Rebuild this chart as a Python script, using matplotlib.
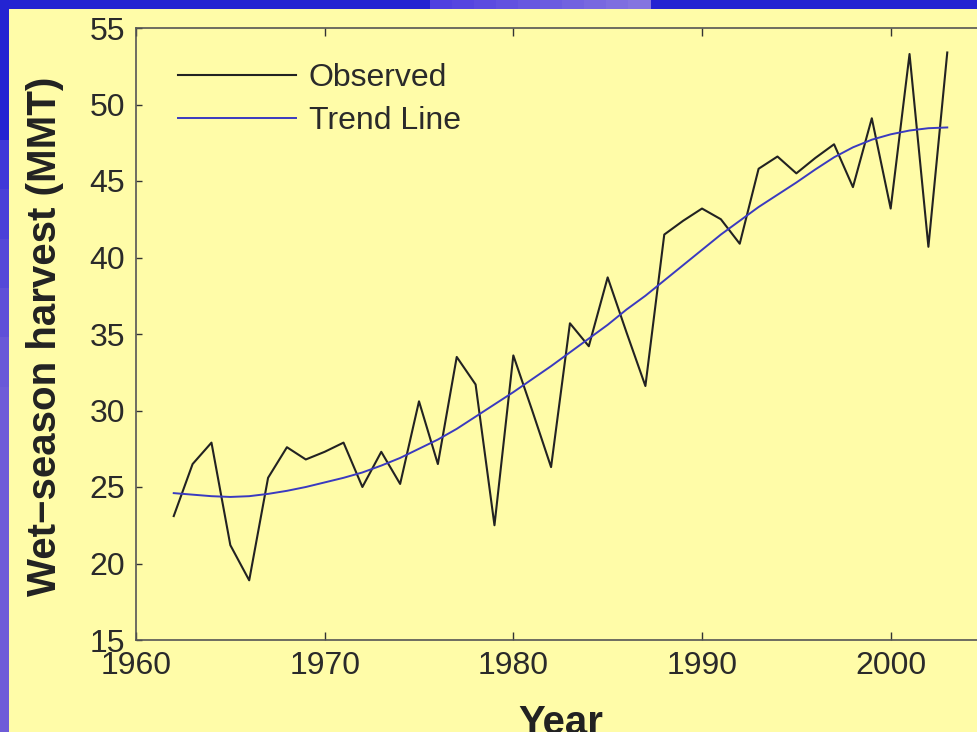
import matplotlib
matplotlib.use("Agg")
import matplotlib.pyplot as plt
from matplotlib.patches import Rectangle

plt.rcParams['font.family'] = ['Liberation Sans', 'DejaVu Sans']

years = list(range(1962, 2004))
observed = [23.1, 26.5, 27.9, 21.2, 18.9, 25.6, 27.6, 26.8, 27.3, 27.9,
            25.0, 27.3, 25.2, 30.6, 26.5, 33.5, 31.7, 22.5, 33.6, 30.0,
            26.3, 35.7, 34.2, 38.7, 35.1, 31.6, 41.5, 42.4, 43.2, 42.5,
            40.9, 45.8, 46.6, 45.5, 46.5, 47.4, 44.6, 49.1, 43.2, 53.3,
            40.7, 53.4]
trend = [24.6, 24.5, 24.4, 24.35, 24.4, 24.55, 24.75, 25.0, 25.3, 25.6,
         25.95, 26.4, 26.9, 27.5, 28.1, 28.8, 29.6, 30.4, 31.2, 32.05,
         32.9, 33.8, 34.7, 35.6, 36.6, 37.5, 38.5, 39.5, 40.5, 41.5,
         42.4, 43.3, 44.1, 44.9, 45.75, 46.55, 47.2, 47.7, 48.05, 48.3,
         48.45, 48.5]
x_ticks = [1960, 1970, 1980, 1990, 2000]
y_ticks = [15, 20, 25, 30, 35, 40, 45, 50, 55]
series_labels = ["Observed", "Trend Line"]

W, H = 977, 732
fig = plt.figure(figsize=(W / 100, H / 100), dpi=100)
fig.patch.set_facecolor('#2424d2')

# slide backdrop: blue field with lighter violet bands, yellow panel on top
def px_rect(x0, y0, x1, y1, color, z=0):
    fig.patches.append(Rectangle((x0 / W, 1 - y1 / H), (x1 - x0) / W, (y1 - y0) / H,
                                 transform=fig.transFigure, facecolor=color,
                                 edgecolor='none', zorder=z))

steps = 12
for i in range(steps):
    t = i / (steps - 1)
    y0 = 140 + i * (H - 140) / steps
    y1 = 140 + (i + 1) * (H - 140) / steps
    r = int(0x40 + (0x6e - 0x40) * min(1, t * 2.5))
    g = int(0x38 + (0x5c - 0x38) * min(1, t * 2.5))
    px_rect(0, y0, 9, y1, '#%02x%02x%02x' % (r, g, 0xd8))
for i in range(10):
    x0 = 430 + i * 22
    shade = int(0x50 + (0x84 - 0x50) * i / 9)
    px_rect(x0, 0, x0 + 23, 9, '#%02x%02xe0' % (shade, shade - 0x10))
px_rect(9, 9, W, H, '#fffca8', z=1)

ax = fig.add_axes([136 / W, (H - 640) / H, (985 - 136) / W, (640 - 28) / H])
ax.set_zorder(2)
ax.set_facecolor('#fffca8')

ax.plot(years, observed, color='#222222', lw=1.5, label=series_labels[0])
ax.plot(years, trend, color='#3a3ac0', lw=1.4, label=series_labels[1])

ax.set_xlim(1960, 2005)
ax.set_ylim(15, 55)
ax.set_xticks(x_ticks)
ax.set_yticks(y_ticks)

for s in ax.spines.values():
    s.set_color('#555555')
    s.set_linewidth(1.2)
ax.tick_params(direction='in', color='#333333', width=1,
               top=True, right=True, labelsize=23, labelcolor='#2a2a2a', pad=8)
ax.tick_params(axis='x', length=6)
ax.tick_params(axis='y', length=4)

ax.set_ylabel("Wet\u2212season harvest (MMT)", fontsize=29, fontweight='bold',
              color='#222222')
ax.yaxis.set_label_coords(-0.085, 0.497)
ax.set_xlabel("Year", fontsize=29, fontweight='bold', color='#222222')
ax.xaxis.set_label_coords(0.5006, -0.104)

leg = ax.legend(loc='upper left', bbox_to_anchor=(0.049, 0.942), frameon=False,
                fontsize=23, handlelength=3.7, handletextpad=0.4,
                labelspacing=0.4, borderpad=0, borderaxespad=0)
for txt in leg.get_texts():
    txt.set_color('#2a2a2a')

fig.savefig("out.png", dpi=100, facecolor=fig.get_facecolor())
